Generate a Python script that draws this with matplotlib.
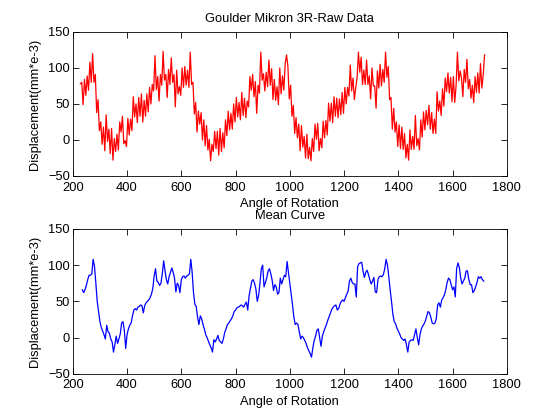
import numpy as np
import matplotlib
matplotlib.use("Agg")
import matplotlib.pyplot as plt

plt.rcParams['font.family'] = ['Liberation Sans', 'DejaVu Sans']

# Raw data: displacement sampled every 5 degrees starting at 228 deg
raw_start = 228
raw_step = 5
raw_disp = [
    78,
    80, 49, 84, 62, 89, 69, 108, 80, 120, 80,
    91, 38, 56, 13, 25, -6, 18, -15, 35, -2,
    15, -19, 16, -28, 2, -16, 8, -14, 25, 11,
    33, -5, -1, -9, 30, 7, 29, 13, 60, 32,
    50, 24, 59, 33, 64, 25, 55, 33, 64, 39,
    73, 50, 77, 68, 117, 70, 88, 54, 91, 76,
    123, 83, 91, 59, 98, 77, 114, 80, 91, 46,
    97, 64, 74, 62, 100, 73, 102, 76, 97, 73,
    122, 77, 80, 36, 52, 11, 40, 22, 38, 0,
    28, -8, 20, -14, 1, -29, -6, -16, 12, -12,
    12, -21, 16, -16, 10, -11, 28, 6, 40, 14,
    37, 15, 50, 25, 59, 32, 52, 28, 66, 34,
    58, 31, 54, 46, 88, 69, 91, 60, 81, 37,
    76, 65, 122, 83, 92, 68, 94, 74, 111, 76,
    99, 56, 84, 55, 74, 49, 100, 64, 89, 69,
    106, 118, 102, 57, 76, 33, 48, 9, 31, 3,
    22, -15, 20, -10, 5, -25, 8, -26, -10, -29,
    2, -16, 22, 1, 23, -15, 2, -11, 26, 3,
    27, 7, 51, 26, 51, 24, 60, 33, 58, 31,
    57, 35, 66, 37, 73, 50, 73, 61, 104, 68,
    86, 56, 72, 86, 122, 94, 115, 77, 97, 77,
    111, 77, 89, 57, 100, 75, 75, 44, 96, 72,
    105, 75, 98, 80, 122, 87, 102, 56, 59, 15,
    44, 11, 25, -9, 21, -12, 18, -13, 9, -25,
    -6, -28, 14, -13, 5, -13, 34, -8, 2, -14,
    28, 4, 39, 14, 41, 21, 48, 15, 38, 9,
    29, 9, 67, 40, 54, 34, 71, 47, 86, 67,
    93, 65, 87, 53, 88, 52, 75, 122, 82, 96,
    86, 60, 98, 80, 112, 71, 84, 58, 76, 52,
    88, 66, 93, 65, 106, 72, 90,
    118,
]

# Mean curve: displacement every 5 degrees starting at 235 deg
mean_start = 235
mean_step = 5
mean_disp = [
    66, 62, 66, 72, 80, 86, 86, 88, 108, 98,
    75, 50, 36, 22, 14, 9, 4, -2, 17, 8,
    6, -2, -6, -20, -10, 2, -8, -2, 5, 20,
    22, 10, -15, 4, 12, 17, 20, 30, 38, 40,
    38, 42, 43, 45, 44, 34, 44, 48, 50, 52,
    55, 60, 68, 85, 95, 78, 76, 72, 75, 88,
    106, 92, 80, 74, 84, 90, 96, 90, 82, 63,
    75, 72, 62, 80, 84, 85, 82, 85, 86, 88,
    108, 90, 62, 46, 43, 28, 18, 30, 26, 18,
    12, 4, 0, -5, -10, -14, -20, -3, -6, -2,
    3, -4, -6, -8, -2, 7, 12, 18, 20, 23,
    26, 30, 36, 38, 41, 42, 43, 45, 44, 42,
    46, 49, 38, 58, 68, 78, 80, 75, 67, 50,
    58, 75, 95, 100, 70, 76, 82, 92, 95, 88,
    79, 65, 73, 70, 60, 62, 82, 74, 80, 86,
    84, 105, 90, 75, 60, 45, 28, 18, 20, 18,
    8, -2, 2, 0, -4, -8, -14, -18, -22, -27,
    -14, -4, 2, 10, 12, 0, -12, 2, 8, 13,
    18, 24, 29, 34, 39, 42, 44, 45, 38, 40,
    46, 50, 52, 50, 55, 60, 64, 78, 82, 76,
    74, 74, 56, 98, 102, 103, 104, 92, 83, 90,
    93, 87, 80, 74, 78, 83, 63, 62, 80, 84,
    85, 84, 87, 95, 108, 100, 84, 66, 50, 32,
    22, 19, 13, 9, 5, 0, -2, -4, -2, -10,
    -20, -6, -4, -3, -4, 4, 12, 0, -10, 4,
    12, 16, 19, 23, 30, 36, 34, 28, 20, 19,
    20, 26, 45, 48, 42, 52, 55, 59, 66, 76,
    82, 80, 73, 66, 70, 56, 95, 103, 97, 82,
    74, 78, 82, 92, 92, 80, 73, 73, 62, 65,
    70, 76, 84, 82, 84, 80, 78,
]

x_ticks = [200, 400, 600, 800, 1000, 1200, 1400, 1600, 1800]
y_ticks = [-50, 0, 50, 100, 150]

raw_angle = raw_start + raw_step * np.arange(len(raw_disp))
mean_angle = mean_start + mean_step * np.arange(len(mean_disp))

fig = plt.figure(figsize=(5.6, 4.2), dpi=100)
ax1 = fig.add_axes([0.13, 0.581, 0.775, 0.343])
ax2 = fig.add_axes([0.13, 0.110, 0.775, 0.345])

fs = 9.3
for ax, x, y, col, title in [
    (ax1, raw_angle, raw_disp, '#ff0000', 'Goulder Mikron 3R-Raw Data'),
    (ax2, mean_angle, mean_disp, '#0000ff', 'Mean Curve'),
]:
    ax.plot(x, y, color=col, lw=0.9)
    ax.set_xlim(200, 1800)
    ax.set_ylim(-50, 150)
    ax.set_xticks(x_ticks)
    ax.set_yticks(y_ticks)
    ax.tick_params(direction='in', length=4, width=0.6, top=True, right=True,
                   labelsize=fs)
    ax.tick_params(axis='x', pad=4)
    ax.tick_params(axis='y', pad=2)
    for s in ax.spines.values():
        s.set_linewidth(0.6)
    ax.set_xlabel('Angle of Rotation', fontsize=fs, labelpad=3)
    ax.set_ylabel('Displacement(mm*e-3)', fontsize=fs, labelpad=5)
    ax.set_title(title, fontsize=fs, pad=7)

fig.savefig('out.png', dpi=100)
